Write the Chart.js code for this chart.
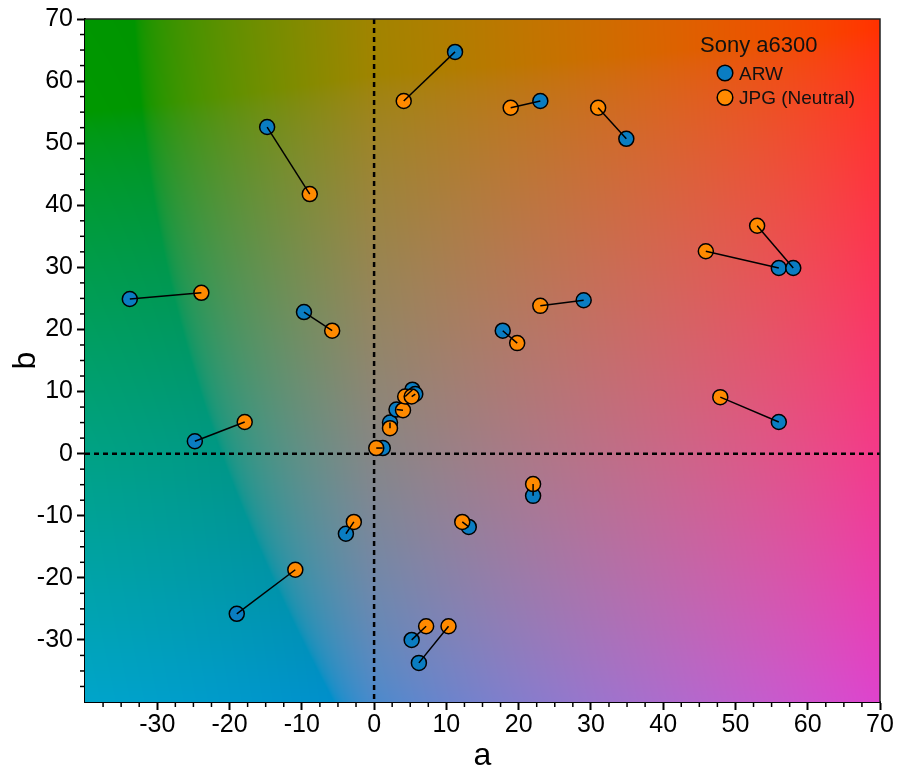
<!DOCTYPE html>
<html><head><meta charset="utf-8">
<script src="https://cdn.jsdelivr.net/npm/chart.js@4.4.1/dist/chart.umd.min.js"></script>
<style>html,body{margin:0;padding:0;background:#fff;}#wrap{width:899px;height:776px;position:relative;}</style>
</head><body><div id="wrap"><canvas id="c"></canvas></div>
<script>
// ---- data ----
const legendTitle = 'Sony a6300';
const seriesNames = ['ARW', 'JPG (Neutral)'];
const arwA = [11.2, -14.8, -33.8, -9.7, -24.8, -19.0, -3.9, 1.2, 2.2, 3.1, 5.3, 5.7, 13.1, 22.0, 5.2, 6.2, 56.0, 23.0, 34.9, 56.0, 58.0, 29.0, 17.8];
const arwB = [64.7, 52.6, 24.9, 22.8, 2.0, -25.8, -12.9, 0.9, 5.0, 7.1, 10.3, 9.6, -11.8, -6.8, -30.0, -33.7, 5.1, 56.8, 50.7, 29.9, 29.9, 24.7, 19.8];
const jpgA = [4.1, -8.9, -23.9, -5.8, -17.9, -10.9, -2.8, 0.3, 2.2, 4.0, 4.3, 5.2, 12.2, 22.0, 7.2, 10.3, 47.9, 18.9, 31.0, 45.9, 53.0, 23.0, 19.8];
const jpgB = [56.8, 41.8, 25.9, 19.8, 5.1, -18.7, -11.0, 0.9, 4.1, 7.0, 9.2, 9.2, -11.0, -4.9, -27.8, -27.8, 9.1, 55.7, 55.7, 32.6, 36.7, 23.8, 17.8];
const xTicks = [-30, -20, -10, 0, 10, 20, 30, 40, 50, 60, 70];
const yTicks = [-30, -20, -10, 0, 10, 20, 30, 40, 50, 60, 70];
const axisMin = -40, axisMax = 70, minorStep = 2.5;

const BLUE = '#0A7DC2', ORANGE = '#FF8A00';
const FONT = '"Liberation Sans", Arial, sans-serif';

function labToRgb(L, a, b) {
  const fy = (L + 16) / 116, fx = fy + a / 500, fz = fy - b / 200;
  const e = 6 / 29;
  const finv = t => t > e ? t * t * t : 3 * e * e * (t - 4 / 29);
  const X = 0.95047 * finv(fx), Y = finv(fy), Z = 1.08883 * finv(fz);
  const r = 3.2406 * X - 1.5372 * Y - 0.4986 * Z;
  const g = -0.9689 * X + 1.8758 * Y + 0.0415 * Z;
  const bl = 0.0557 * X - 0.2040 * Y + 1.0570 * Z;
  const gam = c => { c = Math.min(1, Math.max(0, c)); return c <= 0.0031308 ? 12.92 * c : 1.055 * Math.pow(c, 1 / 2.4) - 0.055; };
  return [gam(r) * 255, gam(g) * 255, gam(bl) * 255];
}

let bgCache = null;
const bgPlugin = {
  id: 'labbg',
  beforeDatasetsDraw(chart) {
    const { ctx, chartArea: ca, scales } = chart;
    const w = Math.round(ca.right - ca.left), h = Math.round(ca.bottom - ca.top);
    if (!bgCache || bgCache.width !== w || bgCache.height !== h) {
      const off = document.createElement('canvas');
      off.width = w; off.height = h;
      const octx = off.getContext('2d');
      const img = octx.createImageData(w, h);
      const aVals = [], bVals = [];
      for (let i = 0; i < w; i++) aVals.push(scales.x.getValueForPixel(ca.left + i + 0.5));
      for (let j = 0; j < h; j++) bVals.push(scales.y.getValueForPixel(ca.top + j + 0.5));
      for (let j = 0; j < h; j++) {
        for (let i = 0; i < w; i++) {
          const a = aVals[i], b = bVals[j];
          const ae = a < 0 ? a * 1.8 : a * 1.06;
          const L = (a < 0 && b > 0) ? 56 + a * b * 0.0012 : 56;
          const c = labToRgb(L, ae, b);
          const k = (j * w + i) * 4;
          img.data[k] = c[0]; img.data[k + 1] = c[1]; img.data[k + 2] = c[2]; img.data[k + 3] = 255;
        }
      }
      octx.putImageData(img, 0, 0);
      bgCache = off;
    }
    ctx.save();
    ctx.drawImage(bgCache, ca.left, ca.top);
    // zero lines
    ctx.strokeStyle = '#000'; ctx.lineWidth = 2.5; ctx.setLineDash([5, 4]);
    const x0 = scales.x.getPixelForValue(0), y0 = scales.y.getPixelForValue(0);
    ctx.beginPath(); ctx.moveTo(x0, ca.top); ctx.lineTo(x0, ca.bottom); ctx.stroke();
    ctx.beginPath(); ctx.moveTo(ca.left, y0); ctx.lineTo(ca.right, y0); ctx.stroke();
    ctx.restore();
  },
  afterDraw(chart) {
    const { ctx, chartArea: ca, scales } = chart;
    ctx.save();
    // frame top/right
    ctx.strokeStyle = '#222'; ctx.lineWidth = 1.5;
    ctx.beginPath(); ctx.moveTo(ca.left, ca.top); ctx.lineTo(ca.right, ca.top); ctx.lineTo(ca.right, ca.bottom); ctx.stroke();
    // minor ticks
    ctx.strokeStyle = '#000'; ctx.lineWidth = 1.5;
    for (let v = axisMin + minorStep; v < axisMax; v += minorStep) {
      if (Math.abs(v % 10) < 1e-6) continue;
      const px = scales.x.getPixelForValue(v);
      ctx.beginPath(); ctx.moveTo(px, ca.bottom); ctx.lineTo(px, ca.bottom + 5); ctx.stroke();
      const py = scales.y.getPixelForValue(v);
      ctx.beginPath(); ctx.moveTo(ca.left, py); ctx.lineTo(ca.left - 5, py); ctx.stroke();
    }
    // legend
    const lx = ca.right - 180, ly = ca.top;
    ctx.fillStyle = '#111';
    ctx.font = '22px ' + FONT;
    ctx.textBaseline = 'alphabetic'; ctx.textAlign = 'left';
    ctx.fillText(legendTitle, lx, ly + 33);
    const cols = [BLUE, ORANGE];
    for (let i = 0; i < 2; i++) {
      const cy = ly + 54 + i * 24.5;
      ctx.beginPath(); ctx.arc(lx + 25, cy, 7.8, 0, Math.PI * 2);
      ctx.fillStyle = cols[i]; ctx.fill();
      ctx.lineWidth = 1.5; ctx.strokeStyle = '#000'; ctx.stroke();
      ctx.fillStyle = '#111'; ctx.font = '19px ' + FONT;
      ctx.fillText(seriesNames[i], lx + 39, cy + 6.8);
    }
    ctx.restore();
  }
};

const toPts = (A, B) => A.map((a, i) => ({ x: a, y: B[i] }));
const datasets = [];
for (let i = 0; i < arwA.length; i++) {
  datasets.push({
    type: 'line', data: [{ x: arwA[i], y: arwB[i] }, { x: jpgA[i], y: jpgB[i] }],
    borderColor: '#000', borderWidth: 1.5, pointRadius: 0, fill: false, order: 0
  });
}
datasets.push({ label: seriesNames[1], data: toPts(jpgA, jpgB), backgroundColor: ORANGE, borderColor: '#000', borderWidth: 1.5, pointRadius: 7.5, order: 1 });
datasets.push({ label: seriesNames[0], data: toPts(arwA, arwB), backgroundColor: BLUE, borderColor: '#000', borderWidth: 1.5, pointRadius: 7.5, order: 2 });

const tickFont = { family: FONT, size: 25 };
new Chart(document.getElementById('c'), {
  type: 'scatter',
  data: { datasets },
  options: {
    responsive: true, maintainAspectRatio: false, animation: false, devicePixelRatio: 1,
    layout: { padding: { top: 19, right: 19, left: 0, bottom: 0 } },
    plugins: { legend: { display: false }, tooltip: { enabled: false } },
    scales: {
      x: {
        type: 'linear', min: axisMin, max: axisMax,
        afterFit: s => { s.height = 74; },
        afterBuildTicks: s => { s.ticks = xTicks.map(v => ({ value: v })); },
        ticks: { font: tickFont, color: '#000', padding: 0, maxRotation: 0, autoSkip: false, callback: v => String(v) },
        grid: { drawOnChartArea: false, drawTicks: true, tickLength: 8, tickWidth: 2, tickColor: '#000' },
        border: { display: true, color: '#000', width: 2 },
        title: { display: true, text: 'a', font: { family: FONT, size: 32 }, color: '#000', padding: { top: 0, bottom: 1 } }
      },
      y: {
        type: 'linear', min: axisMin, max: axisMax,
        afterFit: s => { s.width = 85; },
        afterBuildTicks: s => { s.ticks = yTicks.map(v => ({ value: v })); },
        ticks: { font: tickFont, color: '#000', padding: 4, autoSkip: false, callback: v => String(v) },
        grid: { drawOnChartArea: false, drawTicks: true, tickLength: 8, tickWidth: 2, tickColor: '#000' },
        border: { display: true, color: '#000', width: 2 },
        title: { display: true, text: 'b', font: { family: FONT, size: 32 }, color: '#000', padding: { top: 7, bottom: 0 } }
      }
    }
  },
  plugins: [bgPlugin]
});
</script></body></html>
